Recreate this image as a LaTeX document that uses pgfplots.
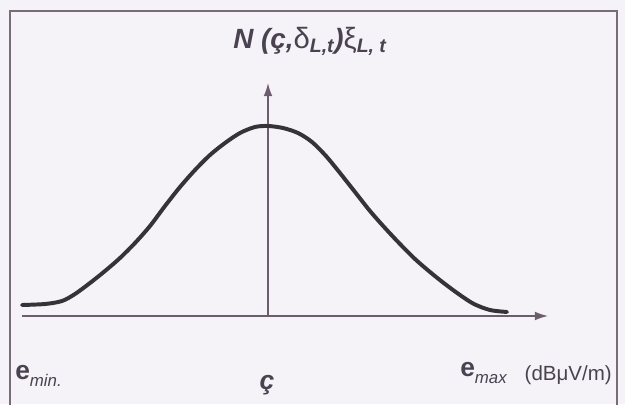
\documentclass[border=0pt]{standalone}
\usepackage{pgfplots}
\pgfplotsset{compat=1.18}
\usepackage{fontspec}
\setmainfont{Liberation Sans}
\definecolor{paper}{HTML}{F5F3F8}
\definecolor{frameline}{HTML}{7A6B78}
\definecolor{axisline}{HTML}{6E5C6C}
\definecolor{curve}{HTML}{353338}
\definecolor{labeltext}{HTML}{4A4250}
\usetikzlibrary{arrows.meta}

% Field-strength distribution curve, sampled by hand (x, y in drawing units)
\pgfplotstableread{
x   y
22  99
45  100
62  103
75  110
90  121
105 133
120 146
135 161
150 178
165 198
180 217
195 234
210 249
225 261
240 271
255 277
268 278
283 276
298 271
312 262
326 248
340 231
355 212
370 193
385 176
400 160
415 145
430 132
445 120
460 109
474 100
490 94
507 92
}\distribution

\newcommand{\greek}[1]{{\upshape\mdseries\fontsize{20}{20}\selectfont #1}}
\newcommand{\lowsub}[1]{\raisebox{-0.45ex}{\fontsize{11.5}{12}\selectfont\mdseries\itshape #1}}

\begin{document}
\begin{tikzpicture}
\useasboundingbox (0,0) rectangle (15cm,9.696cm);
\clip (0,0) rectangle (15cm,9.696cm);
\fill[paper] (0,0) rectangle (15cm,9.696cm);
\begin{axis}[
  at={(0,0)}, anchor=south west,
  scale only axis, width=15cm, height=9.696cm,
  xmin=0, xmax=625, ymin=0, ymax=404,
  hide axis, clip=false,
]
% outer frame
\draw[frameline, line width=1.1pt]
  (axis cs:10,-5) -- (axis cs:10,393) -- (axis cs:617,393) -- (axis cs:617,-5);
% axes with arrowheads
\draw[axisline, line width=1pt, -{Latex[length=9pt,width=6pt]}]
  (axis cs:22,88) -- (axis cs:548,88);
\draw[axisline, line width=1pt, -{Latex[length=9pt,width=6pt]}]
  (axis cs:268,88) -- (axis cs:268,321);
% distribution curve
\addplot[curve, line width=2.7pt, smooth, tension=0.5, line cap=round]
  table[x=x, y=y] {\distribution};
% labels
\node[labeltext, anchor=base, font=\fontsize{19}{20}\selectfont\bfseries\itshape]
  at (axis cs:310,356) {N (ç,\greek{δ}\textsubscript{L,t})\greek{ξ}\textsubscript{L, t}};
\node[labeltext, anchor=west, font=\fontsize{18}{18}\selectfont\bfseries, inner sep=0pt]
  at (axis cs:15,28) {e\lowsub{min.}};
\node[labeltext, font=\fontsize{18}{18}\selectfont\bfseries\itshape]
  at (axis cs:267,19) {ç};
\node[labeltext, anchor=west, font=\fontsize{18}{18}\selectfont\bfseries, inner sep=0pt]
  at (axis cs:460,31) {e\lowsub{max}};
\node[labeltext, anchor=east, font=\fontsize{14}{16}\selectfont, inner sep=0pt]
  at (axis cs:612,29) {(dBμV/m)};
\end{axis}
\end{tikzpicture}
\end{document}
